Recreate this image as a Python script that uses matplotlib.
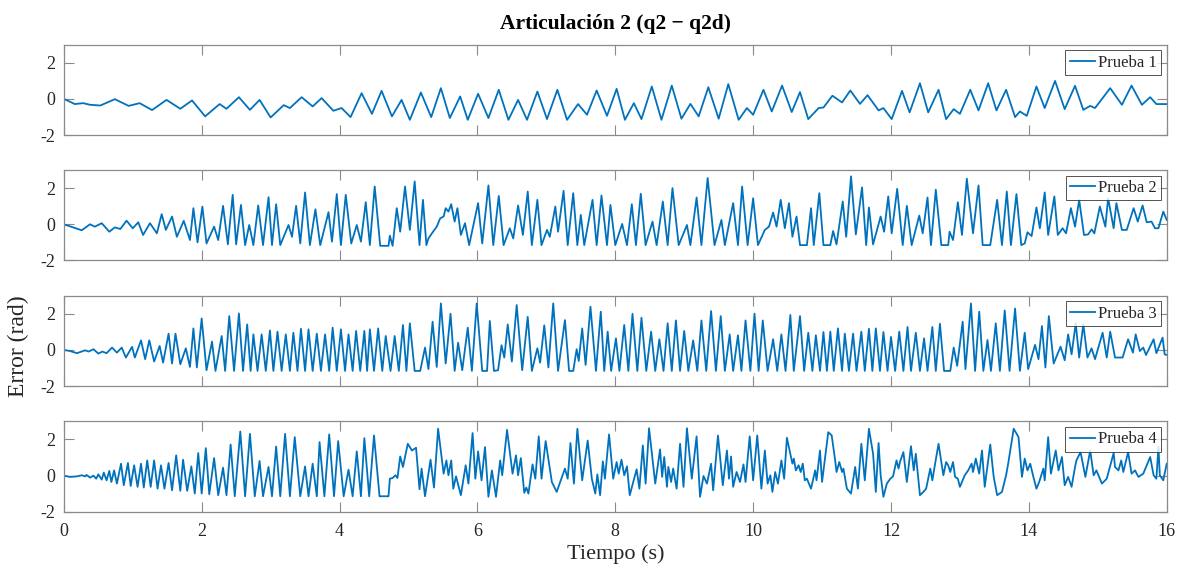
import numpy as np
import matplotlib
matplotlib.use("Agg")
import matplotlib.pyplot as plt

# Tracking error of joint 2 for four trials: (time [s], error [rad]) extrema
prueba1 = [
    (0.00, 0.00), (0.16, -0.29), (0.28, -0.24), (0.38, -0.33), (0.53, -0.37), (0.74, -0.02),
    (0.94, -0.39), (1.10, -0.24), (1.28, -0.62), (1.49, -0.06), (1.69, -0.55), (1.86, -0.09),
    (2.05, -0.97), (2.26, -0.29), (2.36, -0.55), (2.54, 0.09), (2.70, -0.61), (2.84, -0.06),
    (3.00, -1.03), (3.19, -0.35), (3.28, -0.51), (3.45, 0.09), (3.61, -0.42), (3.74, 0.04),
    (3.91, -0.66), (4.03, -0.51), (4.16, -1.01), (4.32, 0.31), (4.47, -0.83), (4.61, 0.44),
    (4.76, -0.97), (4.90, -0.06), (5.02, -1.16), (5.18, 0.35), (5.33, -1.01), (5.47, 0.59),
    (5.60, -1.06), (5.75, 0.13), (5.86, -1.16), (6.01, 0.28), (6.16, -1.06), (6.31, 0.50),
    (6.45, -1.16), (6.59, -0.06), (6.72, -1.16), (6.87, 0.40), (7.01, -1.12), (7.16, 0.50),
    (7.30, -1.16), (7.46, -0.29), (7.59, -0.88), (7.73, 0.46), (7.88, -0.94), (8.02, 0.55),
    (8.14, -1.16), (8.27, -0.24), (8.38, -1.12), (8.53, 0.68), (8.67, -1.16), (8.82, 0.73),
    (8.96, -1.10), (9.09, -0.28), (9.21, -0.97), (9.35, 0.64), (9.50, -1.10), (9.64, 0.81),
    (9.79, -1.16), (9.91, -0.51), (10.00, -0.88), (10.15, 0.50), (10.27, -0.70), (10.42, 0.73),
    (10.56, -0.73), (10.68, 0.37), (10.80, -1.12), (10.95, -0.51), (11.02, -0.48), (11.15, 0.17),
    (11.29, -0.20), (11.41, 0.46), (11.55, -0.28), (11.66, 0.20), (11.82, -0.64), (11.89, -0.51),
    (12.01, -1.12), (12.16, 0.44), (12.27, -0.75), (12.42, 0.86), (12.54, -0.75), (12.69, 0.50),
    (12.80, -1.12), (12.91, -0.57), (13.00, -0.83), (13.15, 0.50), (13.27, -0.64), (13.41, 0.86),
    (13.53, -0.64), (13.67, 0.50), (13.80, -1.01), (13.87, -0.70), (13.97, -0.94), (14.11, 0.68),
    (14.23, -0.51), (14.38, 0.99), (14.52, -0.57), (14.67, 0.72), (14.79, -0.61), (14.89, -0.39),
    (14.96, -0.51), (15.18, 0.59), (15.35, -0.33), (15.49, 0.73), (15.64, -0.33), (15.76, 0.09),
    (15.85, -0.29), (16.00, -0.29),
]

prueba2 = [
    (0.00, 0.00), (0.26, -0.33), (0.38, 0.00), (0.45, -0.13), (0.55, 0.06), (0.66, -0.41),
    (0.74, -0.17), (0.82, -0.26), (0.91, 0.20), (1.00, -0.22), (1.08, 0.11), (1.15, -0.59),
    (1.25, 0.06), (1.35, -0.50), (1.42, 0.56), (1.48, -0.31), (1.57, 0.43), (1.64, -0.69),
    (1.74, 0.19), (1.83, -0.87), (1.88, 0.89), (1.94, -1.00), (2.01, 0.98), (2.07, -1.06),
    (2.18, -0.13), (2.24, -0.87), (2.31, 1.02), (2.38, -1.11), (2.45, 1.63), (2.50, -1.11),
    (2.57, 1.07), (2.63, -1.15), (2.69, -0.04), (2.75, -1.15), (2.82, 1.04), (2.89, -1.15),
    (2.97, 1.50), (3.02, -1.15), (3.08, 1.11), (3.14, -1.15), (3.26, -0.04), (3.31, -0.69),
    (3.37, 1.02), (3.43, -1.06), (3.50, 1.76), (3.57, -1.15), (3.65, 0.83), (3.72, -1.15),
    (3.84, 0.67), (3.89, -0.96), (3.96, 1.67), (4.02, -1.15), (4.09, 1.63), (4.17, -1.06),
    (4.25, -0.04), (4.31, -0.96), (4.38, 1.22), (4.44, -1.15), (4.51, 2.09), (4.59, -1.19),
    (4.71, -1.19), (4.73, -0.63), (4.77, -1.19), (4.83, 0.89), (4.88, -0.41), (4.95, 2.09),
    (5.02, -0.31), (5.09, 2.37), (5.16, -1.15), (5.21, 1.35), (5.26, -1.15), (5.29, -0.78),
    (5.34, -0.50), (5.41, -0.13), (5.46, 0.33), (5.51, 0.43), (5.54, 0.89), (5.58, 0.70),
    (5.62, 1.11), (5.67, 0.15), (5.71, 0.89), (5.76, -0.59), (5.82, 0.06), (5.88, -1.15),
    (6.01, 1.17), (6.07, -1.06), (6.16, 2.15), (6.23, -1.15), (6.31, 1.57), (6.38, -1.15),
    (6.47, -0.22), (6.52, -0.78), (6.59, 1.04), (6.66, -0.59), (6.73, 1.81), (6.79, -1.15),
    (6.87, 1.35), (6.93, -1.15), (7.01, -0.31), (7.05, -0.69), (7.13, 0.98), (7.17, -0.41),
    (7.25, 1.85), (7.31, -1.15), (7.39, 1.72), (7.45, -1.15), (7.50, 0.52), (7.55, -1.15),
    (7.67, 1.35), (7.73, -1.15), (7.80, 1.59), (7.88, -1.15), (7.93, 1.07), (8.00, -1.15),
    (8.10, 0.02), (8.17, -1.15), (8.24, 1.11), (8.30, -1.15), (8.37, 1.69), (8.44, -1.15),
    (8.54, 0.15), (8.60, -1.15), (8.69, 1.26), (8.76, -1.15), (8.83, 2.00), (8.92, -1.15),
    (9.04, -0.04), (9.09, -1.15), (9.18, 1.48), (9.25, -1.15), (9.34, 2.56), (9.44, -1.15),
    (9.54, 0.24), (9.59, -1.15), (9.71, 1.17), (9.78, -1.15), (9.84, 2.09), (9.92, -1.15),
    (10.00, 1.44), (10.07, -1.15), (10.17, -0.31), (10.23, -0.13), (10.29, 0.65), (10.34, -0.13),
    (10.40, 1.35), (10.46, -0.22), (10.52, 1.17), (10.57, -0.69), (10.63, 0.43), (10.68, -1.15),
    (10.78, -1.15), (10.84, 0.89), (10.88, -1.15), (10.96, 1.72), (11.02, -1.15), (11.12, -1.15),
    (11.16, -0.37), (11.21, -1.11), (11.30, 1.26), (11.35, -0.69), (11.42, 2.65), (11.49, -0.56),
    (11.58, 2.04), (11.64, -1.15), (11.68, 0.93), (11.74, -1.11), (11.85, 0.43), (11.90, -0.41),
    (11.96, 1.54), (12.01, -0.50), (12.09, 1.96), (12.17, -1.15), (12.23, 1.02), (12.30, -1.15),
    (12.41, 0.48), (12.46, -0.50), (12.53, 1.48), (12.58, -1.15), (12.65, 1.91), (12.73, -1.15),
    (12.83, -1.15), (12.85, -0.41), (12.90, -0.87), (12.97, 1.22), (13.03, -0.59), (13.10, 2.52),
    (13.19, -0.50), (13.27, 2.15), (13.33, -1.15), (13.44, -1.15), (13.54, 1.35), (13.61, -1.15),
    (13.68, 1.81), (13.74, -1.15), (13.82, 1.67), (13.89, -1.15), (13.94, -1.06), (13.98, -0.44),
    (14.04, -0.65), (14.11, 0.93), (14.16, -0.22), (14.23, 1.76), (14.28, -0.59), (14.37, 1.54),
    (14.42, -0.59), (14.49, -0.22), (14.54, -0.50), (14.61, 0.89), (14.67, -0.13), (14.73, 1.35),
    (14.80, -0.59), (14.86, -0.56), (14.91, -0.28), (14.95, -0.50), (15.03, 0.98), (15.11, -0.13),
    (15.15, 1.44), (15.23, -0.22), (15.27, 1.17), (15.35, -0.31), (15.42, -0.31), (15.52, 0.89),
    (15.58, 0.15), (15.65, 1.04), (15.71, 0.11), (15.78, 0.15), (15.83, -0.22), (15.88, -0.22),
    (15.95, 0.70), (16.00, 0.24),
]

prueba3 = [
    (0.00, 0.00), (0.09, -0.06), (0.19, -0.18), (0.31, -0.02), (0.36, -0.09), (0.43, 0.04),
    (0.50, -0.20), (0.56, -0.09), (0.62, -0.18), (0.70, 0.13), (0.77, -0.15), (0.84, 0.13),
    (0.90, -0.42), (0.99, 0.17), (1.03, -0.42), (1.12, 0.53), (1.18, -0.51), (1.24, 0.53),
    (1.31, -0.64), (1.39, 0.22), (1.44, -0.70), (1.52, 0.90), (1.57, -0.75), (1.62, 0.90),
    (1.69, -0.79), (1.77, 0.09), (1.83, -0.94), (1.88, 1.19), (1.93, -0.97), (2.00, 1.74),
    (2.07, -1.12), (2.15, 0.46), (2.20, -1.16), (2.29, 0.77), (2.34, -1.16), (2.40, 1.87),
    (2.47, -1.16), (2.54, 2.02), (2.60, -1.16), (2.66, 1.41), (2.71, -1.16), (2.75, 0.86),
    (2.81, -1.16), (2.87, 0.86), (2.93, -1.16), (2.99, 1.08), (3.04, -1.16), (3.10, 1.01),
    (3.16, -1.16), (3.22, 0.86), (3.28, -1.16), (3.33, 0.95), (3.39, -1.16), (3.44, 1.17),
    (3.50, -1.16), (3.55, 1.14), (3.61, -1.16), (3.67, 0.90), (3.73, -1.16), (3.79, 0.86),
    (3.85, -1.16), (3.90, 1.23), (3.96, -1.16), (4.02, 1.14), (4.08, -1.16), (4.13, 0.86),
    (4.19, -1.16), (4.24, 1.05), (4.30, -1.16), (4.36, 1.05), (4.40, -1.16), (4.44, 1.14),
    (4.50, -1.16), (4.56, 1.19), (4.62, -1.16), (4.67, 0.77), (4.74, -1.16), (4.80, 0.77),
    (4.86, -1.16), (4.92, 1.38), (4.97, -1.16), (5.02, 1.47), (5.09, -1.16), (5.17, -1.16),
    (5.24, 0.13), (5.29, -1.06), (5.35, 1.56), (5.41, -0.94), (5.47, 2.57), (5.54, -0.75),
    (5.61, 2.00), (5.67, -1.16), (5.72, 0.40), (5.78, -1.12), (5.86, 1.23), (5.92, -1.16),
    (5.99, 2.57), (6.07, -1.16), (6.14, -1.16), (6.18, 1.60), (6.24, -1.16), (6.30, -1.12),
    (6.35, 0.26), (6.39, -0.42), (6.44, 1.41), (6.50, -0.64), (6.57, 2.48), (6.65, -1.12),
    (6.73, 1.83), (6.79, -1.16), (6.87, 0.09), (6.91, -0.70), (6.97, 1.36), (7.03, -0.97),
    (7.10, 2.57), (7.17, -1.16), (7.27, 1.65), (7.33, -1.16), (7.39, -1.16), (7.44, 0.04),
    (7.47, -0.61), (7.52, 1.19), (7.57, -0.83), (7.64, 2.39), (7.72, -1.16), (7.79, 2.11),
    (7.84, -1.16), (7.89, 1.01), (7.94, -1.16), (8.01, 0.64), (8.06, -1.16), (8.13, 1.38),
    (8.19, -1.16), (8.25, 2.00), (8.32, -1.16), (8.38, 1.78), (8.45, -1.16), (8.52, 1.01),
    (8.58, -1.16), (8.64, 0.59), (8.70, -1.16), (8.76, 1.47), (8.82, -1.16), (8.88, 1.63),
    (8.94, -1.16), (9.00, 1.05), (9.06, -1.16), (9.13, 0.53), (9.19, -1.16), (9.25, 1.63),
    (9.32, -1.16), (9.39, 2.15), (9.46, -1.16), (9.53, 1.87), (9.59, -1.16), (9.66, 0.86),
    (9.71, -1.16), (9.78, 0.81), (9.83, -1.16), (9.89, 1.63), (9.96, -1.16), (10.02, 2.00),
    (10.08, -1.16), (10.14, 1.63), (10.21, -1.16), (10.29, 0.59), (10.35, -1.16), (10.41, 0.86),
    (10.47, -1.16), (10.54, 1.93), (10.59, -1.16), (10.68, 1.87), (10.74, -1.16), (10.80, 0.95),
    (10.86, -1.16), (10.91, 0.81), (10.97, -1.16), (11.02, 0.99), (11.07, -1.16), (11.12, 1.01),
    (11.17, -1.16), (11.23, 1.19), (11.29, -1.16), (11.33, 0.90), (11.39, -1.16), (11.45, 0.90),
    (11.50, -1.16), (11.57, 1.01), (11.62, -1.16), (11.68, 1.17), (11.73, -1.16), (11.78, 1.19),
    (11.84, -1.16), (11.89, 0.99), (11.95, -1.16), (12.00, 0.72), (12.06, -1.16), (12.12, 1.01),
    (12.18, -1.16), (12.24, 1.27), (12.29, -1.16), (12.36, 0.95), (12.42, -1.16), (12.48, 0.64),
    (12.53, -1.16), (12.60, 1.27), (12.65, -1.16), (12.71, 1.45), (12.77, -1.16), (12.86, -1.16),
    (12.91, 0.13), (12.96, -0.88), (13.04, 1.56), (13.08, -1.06), (13.16, 2.57), (13.22, -1.16),
    (13.28, 2.11), (13.34, -1.16), (13.40, 0.55), (13.45, -1.16), (13.52, 1.47), (13.58, -1.16),
    (13.65, 2.18), (13.72, -1.16), (13.80, 2.29), (13.87, -1.16), (13.94, 0.95), (13.99, -1.06),
    (14.09, 0.28), (14.14, -0.51), (14.19, 1.32), (14.24, -0.97), (14.29, 1.87), (14.36, -0.75),
    (14.46, 0.18), (14.52, -0.57), (14.57, 0.86), (14.62, -0.24), (14.68, 1.47), (14.73, -0.42),
    (14.79, 1.41), (14.85, -0.42), (14.91, 0.09), (14.96, -0.51), (15.07, 0.95), (15.13, -0.42),
    (15.18, 1.01), (15.25, -0.42), (15.36, -0.42), (15.44, 0.59), (15.51, -0.15), (15.55, 0.86),
    (15.61, -0.06), (15.66, 0.13), (15.70, -0.28), (15.81, 0.59), (15.85, -0.18), (15.94, 0.68),
    (15.97, -0.24), (16.00, -0.28),
]

prueba4 = [
    (0.00, 0.00), (0.09, -0.07), (0.19, -0.04), (0.26, 0.02), (0.31, -0.04), (0.33, 0.04),
    (0.38, -0.11), (0.43, 0.00), (0.47, -0.17), (0.50, 0.07), (0.55, -0.22), (0.58, 0.17),
    (0.62, -0.26), (0.66, 0.26), (0.69, -0.35), (0.73, 0.29), (0.77, -0.44), (0.83, 0.66),
    (0.87, -0.53), (0.93, 0.70), (0.97, -0.57), (1.02, 0.57), (1.07, -0.62), (1.12, 0.66),
    (1.16, -0.66), (1.21, 0.84), (1.26, -0.62), (1.31, 0.84), (1.36, -0.72), (1.41, 0.57),
    (1.46, -0.72), (1.52, 0.70), (1.57, -0.81), (1.63, 1.12), (1.69, -0.84), (1.73, 0.88),
    (1.79, -0.84), (1.85, 0.51), (1.90, -0.99), (1.95, 1.25), (2.00, -0.99), (2.06, 1.52),
    (2.11, -1.03), (2.18, 0.97), (2.24, -1.08), (2.31, 0.44), (2.36, -1.08), (2.42, 1.72),
    (2.48, -1.14), (2.56, 2.44), (2.63, -1.14), (2.70, 2.31), (2.77, -1.14), (2.84, 0.81),
    (2.89, -1.14), (2.97, 0.48), (3.02, -1.14), (3.08, 1.61), (3.14, -1.14), (3.21, 2.31),
    (3.28, -1.14), (3.35, 2.13), (3.43, -1.14), (3.50, 0.51), (3.55, -1.14), (3.61, 0.66),
    (3.67, -1.14), (3.71, 1.85), (3.78, -1.14), (3.85, 2.28), (3.92, -1.14), (3.98, 1.91),
    (4.06, -1.14), (4.13, 0.33), (4.19, -1.14), (4.25, 1.34), (4.31, -1.14), (4.36, 2.07),
    (4.43, -1.14), (4.50, 2.22), (4.58, -1.14), (4.71, -1.14), (4.73, -0.17), (4.77, -0.13),
    (4.81, 0.02), (4.84, -0.13), (4.88, 1.06), (4.92, 0.48), (4.99, 1.76), (5.05, 1.39),
    (5.11, 1.54), (5.16, -0.75), (5.19, 0.39), (5.24, -1.14), (5.32, 0.88), (5.37, -0.66),
    (5.43, 2.59), (5.51, 0.11), (5.55, 0.84), (5.58, 0.02), (5.62, 0.84), (5.65, -0.72),
    (5.69, -0.04), (5.76, -1.08), (5.83, 0.57), (5.87, -0.44), (5.93, 2.35), (5.97, -0.17),
    (6.01, 1.34), (6.06, -0.26), (6.11, 1.58), (6.16, -1.17), (6.21, 0.29), (6.27, -1.17),
    (6.33, 0.84), (6.36, 0.02), (6.43, 2.53), (6.51, 0.11), (6.56, 1.12), (6.59, 0.02),
    (6.63, 0.97), (6.68, -0.95), (6.71, -0.66), (6.74, -0.99), (6.80, 0.62), (6.84, -0.17),
    (6.89, 2.17), (6.93, -0.17), (6.99, 1.91), (7.08, -0.35), (7.15, -0.90), (7.27, 0.39),
    (7.31, -0.17), (7.35, 1.80), (7.40, -0.44), (7.45, 2.59), (7.52, -0.26), (7.60, 1.94),
    (7.66, -0.17), (7.71, -0.99), (7.74, 0.07), (7.78, -1.08), (7.82, 0.79), (7.85, -0.17),
    (7.91, 2.28), (7.97, -0.17), (8.02, 0.75), (8.05, 0.11), (8.09, 0.88), (8.13, 0.02),
    (8.17, 0.51), (8.21, -1.08), (8.31, 0.35), (8.35, -0.72), (8.40, 1.67), (8.44, -0.44),
    (8.49, 2.62), (8.58, -0.44), (8.65, 1.45), (8.68, -0.07), (8.71, 1.03), (8.75, -0.62),
    (8.77, 0.48), (8.81, -0.35), (8.84, 0.39), (8.89, -0.72), (8.94, 1.76), (8.99, -0.62),
    (9.04, 2.62), (9.11, -0.17), (9.18, 2.17), (9.23, -1.17), (9.28, -0.02), (9.33, -0.44),
    (9.39, 0.66), (9.42, -0.81), (9.49, 2.22), (9.56, -0.53), (9.62, 1.39), (9.65, -0.17),
    (9.68, 1.06), (9.71, -0.62), (9.76, 0.20), (9.81, -0.35), (9.86, 0.62), (9.89, -0.35),
    (9.95, 2.17), (10.00, -0.26), (10.06, 2.22), (10.12, -0.72), (10.17, 1.39), (10.21, -0.44),
    (10.25, 0.02), (10.28, -0.90), (10.32, 0.20), (10.36, -0.44), (10.41, 0.84), (10.45, -0.17),
    (10.49, 2.09), (10.57, 0.66), (10.59, 0.94), (10.62, 0.29), (10.66, 0.57), (10.69, 0.20),
    (10.72, 0.66), (10.75, -0.26), (10.78, -0.17), (10.84, -0.72), (10.90, 0.29), (10.92, -0.26),
    (10.97, 1.39), (11.00, -0.35), (11.09, 2.40), (11.14, 2.22), (11.19, 0.84), (11.21, 0.20),
    (11.25, 0.75), (11.29, 0.20), (11.31, 0.39), (11.36, -0.72), (11.42, -0.99), (11.48, 0.48),
    (11.52, -0.72), (11.57, 1.76), (11.62, -0.26), (11.68, 2.59), (11.74, 1.21), (11.78, -0.90),
    (11.82, 1.80), (11.85, 0.02), (11.89, -1.17), (11.94, -0.44), (11.99, -0.17), (12.03, -0.04),
    (12.08, 0.84), (12.11, 0.39), (12.13, 0.75), (12.18, 1.30), (12.23, -0.35), (12.29, 1.63),
    (12.33, 0.29), (12.36, 1.21), (12.42, -1.08), (12.47, -0.90), (12.51, -0.72), (12.57, 0.39),
    (12.60, -0.26), (12.64, 0.66), (12.69, 1.76), (12.76, 0.02), (12.80, 0.75), (12.83, 0.57),
    (12.86, 0.20), (12.90, 0.75), (12.93, -0.07), (12.97, -0.17), (13.00, -0.62), (13.07, 0.02),
    (13.12, 0.29), (13.17, 0.66), (13.19, 0.20), (13.23, 0.94), (13.28, 0.11), (13.32, 1.39),
    (13.36, -0.62), (13.44, 1.72), (13.49, -0.07), (13.54, -1.08), (13.61, -0.90), (13.67, 0.02),
    (13.70, 0.66), (13.78, 2.59), (13.85, 2.13), (13.90, -0.07), (13.94, 0.94), (13.98, 0.29),
    (14.02, 0.66), (14.06, 0.02), (14.11, -0.72), (14.15, -0.35), (14.21, 0.39), (14.23, -0.26),
    (14.28, 2.13), (14.32, 0.11), (14.39, 1.39), (14.43, 0.29), (14.48, 1.03), (14.52, -0.53),
    (14.57, -0.07), (14.62, -0.62), (14.67, 0.48), (14.69, 0.84), (14.75, 1.30), (14.82, -0.07),
    (14.89, 1.39), (14.94, 0.02), (14.98, 0.29), (15.06, -0.44), (15.13, -0.17), (15.23, 1.25),
    (15.25, 0.48), (15.30, 0.29), (15.34, 0.84), (15.37, 0.20), (15.44, 1.30), (15.49, 0.11),
    (15.54, 0.29), (15.59, -0.07), (15.66, 0.11), (15.76, 1.03), (15.81, 0.02), (15.85, -0.17),
    (15.88, 1.58), (15.90, 0.02), (15.95, -0.26), (16.00, 0.66),
]

series = [prueba1, prueba2, prueba3, prueba4]
labels = ["Prueba 1", "Prueba 2", "Prueba 3", "Prueba 4"]
x_ticks = [0, 2, 4, 6, 8, 10, 12, 14, 16]
y_ticks = [-2, 0, 2]

plt.rcParams['font.family'] = ['Liberation Serif', 'DejaVu Serif']
plt.rcParams['axes.unicode_minus'] = False

LINE = '#0072BD'
FRAME = '#8a8a8a'
TEXT = '#262626'

fig = plt.figure(figsize=(11.84, 5.68), dpi=100)
left, width, height = 0.0539, 0.9315, 0.1593
bottoms = [0.7623, 0.5414, 0.3202, 0.0989]

axes = []
for i, (data, lab) in enumerate(zip(series, labels)):
    ax = fig.add_axes([left, bottoms[i], width, height])
    t, e = np.array(data).T
    ax.plot(t, e, color=LINE, lw=1.3, label=lab, solid_joinstyle='round')
    ax.set_xlim(0, 16)
    ax.set_ylim(-2, 3)
    ax.set_xticks(x_ticks)
    ax.set_yticks(y_ticks)
    ax.tick_params(direction='in', top=True, right=True, length=7.5, width=0.8,
                   color=FRAME, labelcolor=TEXT, labelsize=13)
    ax.tick_params(axis='x', pad=8)
    ax.tick_params(axis='y', pad=6)
    for s in ax.spines.values():
        s.set_color(FRAME)
        s.set_linewidth(0.9)
    if i < 3:
        ax.tick_params(labelbottom=False)
    leg = ax.legend(loc='upper right', fontsize=12, frameon=True, fancybox=False,
                    borderaxespad=0.35, borderpad=0.25, handlelength=1.5,
                    handletextpad=0.2)
    leg.get_frame().set_edgecolor(TEXT)
    leg.get_frame().set_linewidth(0.7)
    for txt in leg.get_texts():
        txt.set_color(TEXT)
    axes.append(ax)

axes[0].set_title("Articulación 2 (q2 \u2212 q2d)", fontsize=15.5, fontweight='bold',
                  color='black', pad=11)
axes[3].set_xlabel("Tiempo (s)", fontsize=16, color=TEXT, labelpad=3)
fig.text(0.016, 0.39, "Error (rad)", rotation=90, fontsize=17, color=TEXT,
         ha='center', va='center')

fig.savefig("out.png", dpi=100)
